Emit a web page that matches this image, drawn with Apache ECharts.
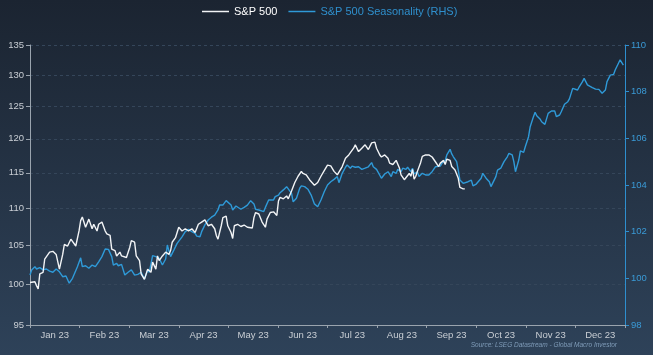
<!DOCTYPE html>
<html><head><meta charset="utf-8">
<script src="https://cdn.jsdelivr.net/npm/echarts@6/dist/echarts.min.js"></script>
<style>html,body{margin:0;padding:0;background:#243244;}#c{width:653px;height:355px;}</style>
</head><body><div id="c"></div>
<script>
const months = ['Jan 23','Feb 23','Mar 23','Apr 23','May 23','Jun 23','Jul 23','Aug 23','Sep 23','Oct 23','Nov 23','Dec 23'];
const leftTicks = [95,100,105,110,115,120,125,130,135];
const rightMin = 98, rightMax = 110, rightStep = 2;

// S&P 500 (left axis, log scale): day of 2023, index value
const spxDays = [0,1,3,4,5,6,8,9,12,14,
  16,18,20,21,23,25,26,28,30,31,
  32,34,36,38,39,41,42,44,46,47,
  49,50,52,53,55,56,59,61,62,64,
  65,67,68,70,71,72,74,75,77,78,
  79,81,83,85,86,87,89,91,93,95,
  97,99,101,103,105,107,109,111,113,114,
  115,117,118,120,121,123,124,125,127,129,
  131,133,134,136,137,138,140,142,144,145,
  147,149,151,152,153,155,157,158,160,162,
  164,166,167,169,171,172,174,176,178,180,
  182,184,186,188,189,191,193,195,196,198,
  199,201,203,205,207,209,211,212,214,215,
  217,219,220,222,224,226,227,229,230,232,
  233,234,235,236,237,239,240,242,244,246,
  248,250,251,253,254,255,257,258,260,262,
  263,265,266];
const spxValues = [100.2,100.0,100.3,99.8,99.4,101.3,101.5,103.2,104.1,104.2,
  103.8,101.9,103.8,105.1,104.9,105.8,106.0,104.9,106.9,108.3,
  108.8,107.4,108.5,107.2,107.8,106.9,107.8,108.1,106.9,106.5,
  106.3,104.5,104.3,103.6,104.1,103.6,103.4,104.7,105.6,105.4,
  103.6,103.0,101.3,100.6,100.8,101.9,101.5,102.8,101.9,103.6,
  103.0,103.6,104.1,103.8,104.3,105.4,106.0,107.4,106.9,107.2,
  106.9,107.2,106.7,107.8,108.1,108.4,107.6,107.8,107.2,106.3,
  105.8,107.6,108.7,108.9,107.6,106.7,105.9,107.6,107.8,107.5,
  107.7,107.4,107.6,107.3,108.7,109.4,109.2,108.1,107.4,108.5,
  109.4,109.5,109.0,111.0,111.5,111.3,111.7,111.3,112.4,113.6,
  114.5,115.2,114.9,114.7,114.0,113.8,113.2,113.6,114.5,115.3,
  116.1,116.0,115.2,114.7,114.7,115.9,117.1,117.6,117.4,118.6,
  119.1,118.1,118.6,119.1,118.4,119.4,119.5,118.6,117.6,117.3,
  117.6,117.1,116.4,116.2,116.8,115.7,114.7,114.0,114.1,114.9,
  114.5,115.5,114.1,114.5,115.2,116.5,117.4,117.6,117.6,117.3,
  116.6,115.9,116.4,116.8,116.2,117.0,116.8,115.9,115.4,114.2,
  112.9,112.7,112.7];

// S&P 500 Seasonality (right axis)
const seasDays = [0,1,3,4,6,8,10,12,14,16,
  18,20,22,24,26,27,29,31,32,34,
  36,38,40,42,44,46,48,50,51,53,
  54,56,58,60,62,64,66,68,70,72,
  73,75,77,79,81,83,84,86,88,90,
  93,95,97,99,101,102,104,105,107,109,
  111,113,115,116,118,120,121,123,124,126,
  127,129,131,133,135,137,138,140,143,144,
  146,147,149,150,152,153,155,157,158,160,
  161,163,165,166,168,170,172,174,176,177,
  178,180,182,184,186,188,189,191,193,194,
  196,197,199,201,203,205,207,209,210,212,
  213,215,217,218,219,221,222,224,225,227,
  228,230,231,233,234,235,237,238,240,242,
  243,244,246,248,249,251,252,254,255,257,
  258,259,261,262,263,265,266,268,270,271,
  273,274,276,277,279,281,282,283,285,286,
  288,289,290,292,293,295,296,297,299,300,
  302,303,305,306,308,309,310,312,313,315,
  316,317,319,321,322,324,325,327,329,330,
  332,333,335,336,338,339,341,342,344,346,
  348,350,352,353,355,357,358,360,361,363];
const seasValues = [100.14,100.36,100.5,100.4,100.46,100.36,100.4,100.31,100.26,100.4,
  100.28,100.07,100.1,99.79,100.0,99.97,100.5,100.88,100.5,100.54,
  100.43,100.57,100.5,100.71,100.93,101.26,101.24,100.93,100.57,100.64,
  100.54,100.6,100.14,100.26,100.36,100.14,100.17,100.26,99.97,100.36,
  100.26,100.97,100.93,100.86,100.57,100.83,101.43,100.93,101.21,101.5,
  101.78,102.0,102.1,102.0,101.93,101.81,101.78,102.0,102.29,102.5,
  102.62,102.71,102.93,103.14,103.14,103.33,103.36,103.14,102.93,103.1,
  103.14,102.96,103.04,103.14,103.33,103.19,102.96,102.93,102.86,103.04,
  103.36,103.43,103.36,103.5,103.57,103.67,103.79,103.93,104.0,103.64,
  103.28,103.43,103.86,103.96,103.93,103.82,103.57,103.19,103.07,103.0,
  103.36,103.71,104.0,104.14,104.24,104.36,104.1,104.5,104.76,104.86,
  104.72,104.81,104.76,104.78,104.67,104.72,104.78,104.96,104.78,104.67,
  104.64,104.29,104.47,104.39,104.57,104.36,104.57,104.5,104.67,104.57,
  104.72,104.67,104.76,104.57,104.72,104.47,104.57,104.36,104.5,104.43,
  104.5,104.43,104.57,104.78,104.72,104.81,104.93,105.04,105.29,105.53,
  105.33,105.21,105.0,104.64,104.21,104.07,104.0,104.14,104.21,103.96,
  104.04,104.0,104.29,104.5,104.29,104.14,103.93,103.93,104.36,104.64,
  104.72,104.86,105.0,105.21,105.36,105.29,105.0,104.57,105.07,105.46,
  105.4,105.64,106.07,106.5,106.93,107.12,106.97,106.83,106.71,106.6,
  106.64,107.07,107.17,107.17,106.93,107.0,107.14,107.46,107.57,107.69,
  108.14,108.17,108.07,108.21,108.43,108.57,108.29,108.36,108.17,108.11,
  108.1,107.93,108.07,108.43,108.71,108.74,108.93,109.22,109.36,109.14];

const seriesNames = ['S&P 500', 'S&P 500 Seasonality (RHS)'];
const sourceText = 'Source: LSEG Datastream - Global Macro Investor';

const DAY = 86400000, T0 = Date.UTC(2023, 0, 1);
const toPairs = (days, vals) => days.map((d, i) => [T0 + d * DAY, vals[i]]);

const WHITE = '#f2f4f6', BLUE = '#2f9ad8', GREY = '#c9ced4', AXIS = '#9aa4ae';
const FONT = 'Liberation Sans, Arial, sans-serif';

const chart = echarts.init(document.getElementById('c'), null, {renderer: 'canvas'});
chart.setOption({
  animation: false,
  backgroundColor: {type: 'linear', x: 0, y: 0, x2: 0, y2: 1,
    colorStops: [{offset: 0, color: '#1b2431'}, {offset: 1, color: '#2e4259'}]},
  textStyle: {fontFamily: FONT},
  legend: {
    top: 1, left: 197, icon: 'rect', itemWidth: 27, itemHeight: 1.5, itemGap: 11,
    textStyle: {fontSize: 11, fontFamily: FONT, padding: [0, 0, 0, 0]},
    data: [
      {name: seriesNames[0], textStyle: {color: '#ffffff'}},
      {name: seriesNames[1], textStyle: {color: '#2f8fcc'}}
    ]
  },
  grid: {left: 30, right: 28, top: 45, bottom: 30},
  xAxis: [
    {type: 'time', min: T0, max: T0 + 364 * DAY, show: false, position: 'top'},
    {type: 'category', data: months, boundaryGap: true, position: 'bottom',
      axisLine: {lineStyle: {color: AXIS, width: 1}},
      axisTick: {show: true, length: 3, lineStyle: {color: AXIS}},
      axisLabel: {color: GREY, fontSize: 9.5, margin: 5},
      splitLine: {show: false}}
  ],
  yAxis: [
    {type: 'log', logBase: 10, min: leftTicks[0], max: leftTicks[leftTicks.length - 1], show: false, position: 'left'},
    {type: 'value', position: 'right', min: rightMin, max: rightMax, interval: rightStep,
      axisLine: {show: true, lineStyle: {color: '#2e8fcf', width: 1}},
      axisTick: {show: true, length: 4, lineStyle: {color: '#2e8fcf'}},
      axisLabel: {color: '#3a9ad6', fontSize: 9.5, margin: 6},
      splitLine: {show: false}},
    {type: 'value', position: 'left',
      min: Math.log(leftTicks[0]), max: Math.log(leftTicks[leftTicks.length - 1]),
      axisLine: {show: true, lineStyle: {color: AXIS, width: 1}},
      axisTick: {show: true, length: 4, lineStyle: {color: AXIS}, customValues: leftTicks.map(Math.log)},
      axisLabel: {color: GREY, fontSize: 9.5, margin: 6, customValues: leftTicks.map(Math.log),
        formatter: v => String(Math.round(Math.exp(v)))},
      splitLine: {show: true, lineStyle: {color: '#35465a', type: [3, 3], width: 1}}}
  ],
  series: [
    {name: seriesNames[0], type: 'line', xAxisIndex: 0, yAxisIndex: 0, showSymbol: false, z: 3,
      data: toPairs(spxDays, spxValues), itemStyle: {color: WHITE},
      lineStyle: {color: WHITE, width: 1.4}},
    {name: seriesNames[1], type: 'line', xAxisIndex: 0, yAxisIndex: 1, showSymbol: false, z: 2,
      data: toPairs(seasDays, seasValues), itemStyle: {color: BLUE},
      lineStyle: {color: BLUE, width: 1.4}}
  ],
  graphic: [{type: 'text', right: 36, top: 342,
    style: {text: sourceText, fill: '#7f9bb8', font: 'italic 6.5px ' + FONT}}]
});
</script></body></html>
